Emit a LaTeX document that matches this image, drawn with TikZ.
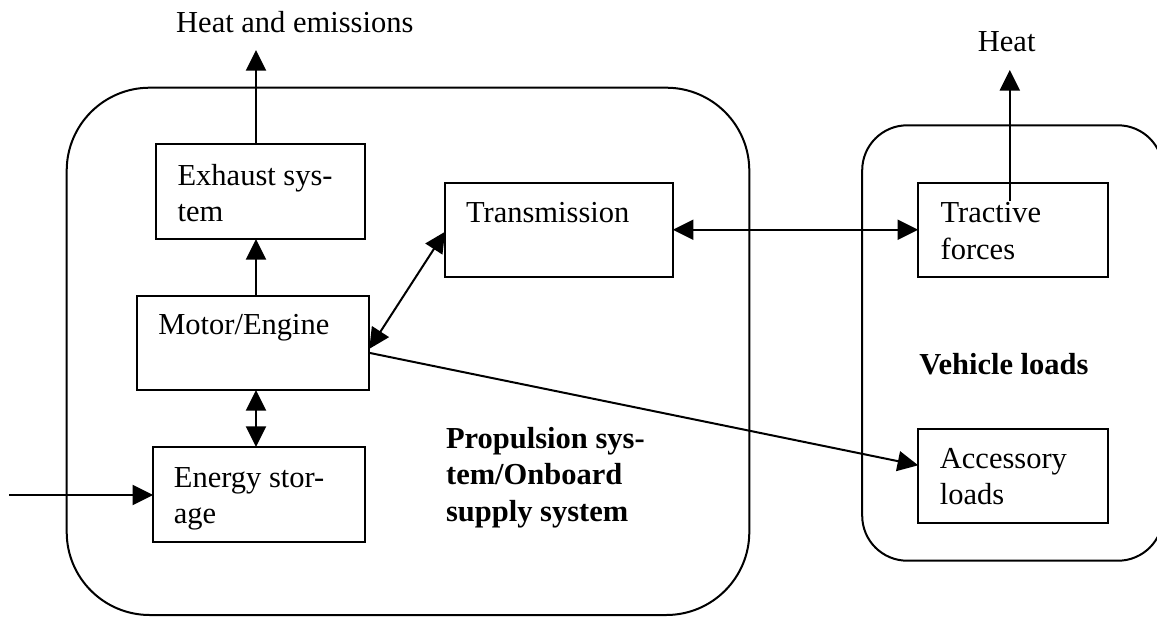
\documentclass[tikz,border=0pt]{standalone}
\usepackage{fontspec}
\setmainfont{Liberation Serif}
\usetikzlibrary{arrows.meta,calc}
\tikzset{
  box/.style={draw, line width=1pt, inner sep=0pt, outer sep=0pt, rectangle},
  group/.style={draw, line width=1pt, inner sep=0pt, outer sep=0pt, rectangle},
  lbl/.style={anchor=base west, inner sep=0pt, outer sep=0pt,
              font=\fontsize{15.25}{18.25}\selectfont},
  clbl/.style={anchor=base, inner sep=0pt, outer sep=0pt,
              font=\fontsize{15.25}{18.25}\selectfont},
  blbl/.style={anchor=base west, inner sep=0pt, outer sep=0pt,
              font=\fontsize{15.25}{18.25}\selectfont\bfseries},
  conn/.style={line width=1pt},
  arr/.style={conn, -{Triangle[length=10.3pt,width=10pt]}},
  darr/.style={conn, {Triangle[length=10.3pt,width=10pt]}-{Triangle[length=10.3pt,width=10pt]}},
}
\begin{document}
\begin{tikzpicture}[x=0.5pt,y=-0.5pt]
\clip (0,0) rectangle (1157,616);
\useasboundingbox (0,0) rectangle (1157,616);

% group boxes
\node[group, rounded corners=41.5pt, minimum width=341.3pt, minimum height=263.65pt] (prop) at (408,351.35) {};
\node[group, rounded corners=22.5pt, minimum width=150.4pt, minimum height=217.7pt] (veh) at (1012.6,343) {};

% component boxes
\node[box, minimum width=104.5pt, minimum height=47.5pt] (exh) at (260.5,191.5) {};
\node[box, minimum width=113.85pt, minimum height=46.75pt] (trans) at (558.9,229.75) {};
\node[box, minimum width=95.1pt, minimum height=47.15pt] (tract) at (1013.3,230.15) {};
\node[box, minimum width=116pt, minimum height=47.15pt] (motor) at (253.3,342.85) {};
\node[box, minimum width=106pt, minimum height=47.65pt] (energy) at (259.1,494.65) {};
\node[box, minimum width=95.1pt, minimum height=47pt] (acc) at (1013.3,476.3) {};

% labels
\node[clbl] (heatem) at (294.8,32) {Heat and emissions};
\node[clbl] (heat) at (1006.7,51) {Heat};
\node[lbl] (exhtxt) at (177.6,185.3) {\vtop{\hbox{Exhaust sys-}\hbox{tem}}};
\node[lbl] (transtxt) at (466.1,222.7) {Transmission};
\node[lbl] (tracttxt) at (940.6,222.7) {\vtop{\hbox{Tractive}\hbox{forces}}};
\node[lbl] (motortxt) at (158.3,334) {Motor/Engine};
\node[lbl] (energytxt) at (173.9,487.3) {\vtop{\hbox{Energy stor-}\hbox{age}}};
\node[lbl] (acctxt) at (939.9,468.3) {\vtop{\hbox{Accessory}\hbox{loads}}};
\node[blbl] (proptxt) at (446.1,448.3) {\vtop{\hbox{Propulsion sys-}\hbox{tem/Onboard}\hbox{supply system}}};
\node[blbl] (vehtxt) at (919.3,374) {Vehicle loads};

% helper coordinates
\coordinate (col) at (256,0);
\coordinate (heattip1) at (256,50);
\coordinate (src) at (9.2,495);
\coordinate (tractsrc) at (1009.8,201);
\coordinate (heattip2) at (1009.8,70);

% connectors
\draw[arr] (exh.north -| col) -- (heattip1);
\draw[arr] (motor.north -| col) -- (exh.south -| col);
\draw[darr] (motor.south -| col) -- (energy.north -| col);
\draw[arr] (src) -- (src -| energy.west);
\draw[darr] ($(motor.east)+(0,6)$) -- ($(trans.west)+(0,2)$);
\draw[arr] ($(motor.east)+(0,10)$) -- ($(acc.west)+(0,-11)$);
\draw[darr] (trans.east) -- (trans.east -| tract.west);
\draw[arr] (tractsrc) -- (heattip2);
\end{tikzpicture}
\end{document}
